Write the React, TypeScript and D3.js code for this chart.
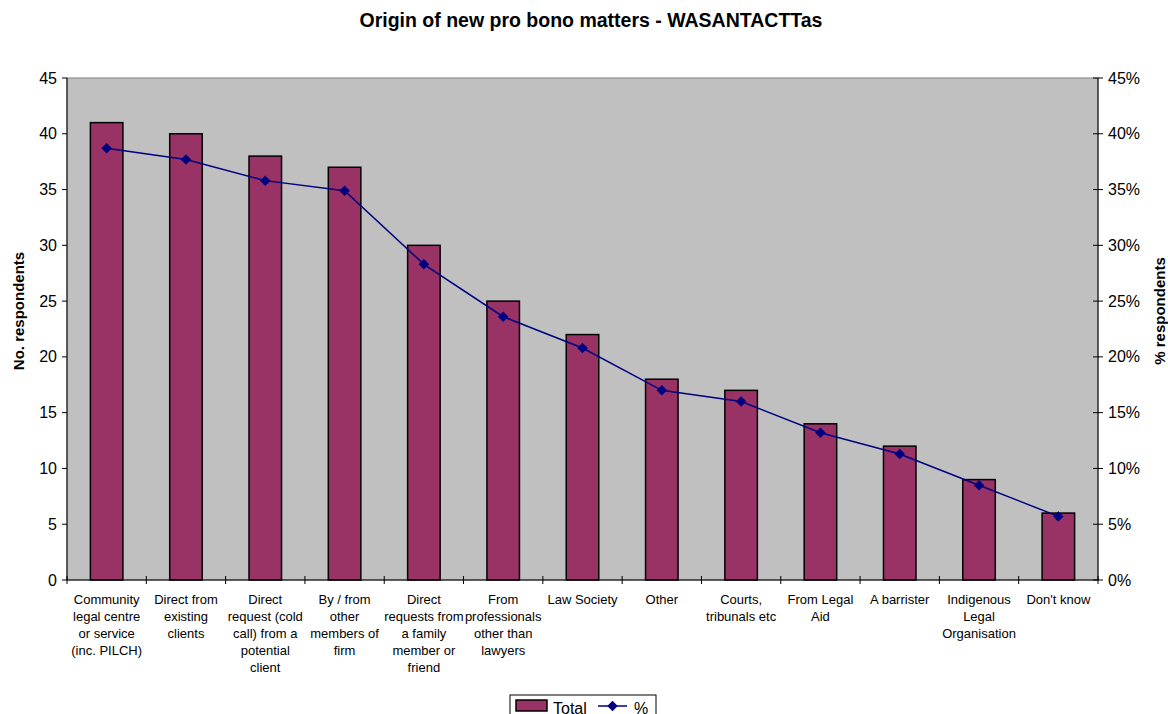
import { useEffect, useRef } from "react"
import * as d3 from "d3"

// Chart data
const categories = [
  "Community\nlegal centre\nor service\n(inc. PILCH)",
  "Direct from\nexisting\nclients",
  "Direct\nrequest  (cold\ncall) from a\npotential\nclient",
  "By / from\nother\nmembers of\nfirm",
  "Direct\nrequests from\na family\nmember or\nfriend",
  "From\nprofessionals\nother than\nlawyers",
  "Law Society",
  "Other",
  "Courts,\ntribunals etc",
  "From Legal\nAid",
  "A barrister",
  "Indigenous\nLegal\nOrganisation",
  "Don't know",
]
const totals = [41, 40, 38, 37, 30, 25, 22, 18, 17, 14, 12, 9, 6]
const percents = [38.7, 37.7, 35.8, 34.9, 28.3, 23.6, 20.8, 17.0, 16.0, 13.2, 11.3, 8.5, 5.7]
const leftTicks = [0, 5, 10, 15, 20, 25, 30, 35, 40, 45]
const rightTicks = [0, 5, 10, 15, 20, 25, 30, 35, 40, 45]

const W = 1168
const H = 714
const font = "Arial, 'Liberation Sans', sans-serif"

const App = () => {
  const svgRef = useRef<SVGSVGElement>(null)

  useEffect(() => {
    if (!svgRef.current) return
    const svg = d3.select(svgRef.current)
    svg.selectAll("*").remove()
    svg.style("font-family", font)

    const left = 67
    const right = 1098
    const top = 78
    const bottom = 580

    const x = d3.scaleBand<number>().domain(d3.range(categories.length)).range([left, right]).padding(0)
    const y = d3.scaleLinear().domain([0, 45]).range([bottom, top])
    const yp = d3.scaleLinear().domain([0, 45]).range([bottom, top])
    const barW = x.bandwidth() * 0.41

    // diamond marker: rotated square
    const diamond = d3.symbol(d3.symbolSquare, 55)()

    // Title
    svg
      .append("text")
      .attr("x", 591)
      .attr("y", 27)
      .attr("text-anchor", "middle")
      .attr("font-size", 19.5)
      .attr("font-weight", "bold")
      .text("Origin of new pro bono matters - WASANTACTTas")

    // Plot area
    svg
      .append("rect")
      .attr("x", left)
      .attr("y", top)
      .attr("width", right - left)
      .attr("height", bottom - top)
      .attr("fill", "#c0c0c0")
      .attr("stroke", "#808080")
      .attr("stroke-width", 1)

    // Bars
    svg
      .selectAll("rect.bar")
      .data(totals)
      .join("rect")
      .attr("class", "bar")
      .attr("x", (_, i) => x(i)! + (x.bandwidth() - barW) / 2)
      .attr("y", (d) => y(d))
      .attr("width", barW)
      .attr("height", (d) => bottom - y(d))
      .attr("fill", "#993366")
      .attr("stroke", "#000")
      .attr("stroke-width", 1.5)

    // Line series
    const line = d3
      .line<number>()
      .x((_, i) => x(i)! + x.bandwidth() / 2)
      .y((d) => yp(d))
    svg
      .append("path")
      .datum(percents)
      .attr("d", line)
      .attr("fill", "none")
      .attr("stroke", "#000080")
      .attr("stroke-width", 1.5)
    svg
      .selectAll("path.marker")
      .data(percents)
      .join("path")
      .attr("class", "marker")
      .attr("d", diamond)
      .attr("transform", (d, i) => `translate(${x(i)! + x.bandwidth() / 2},${yp(d)}) rotate(45)`)
      .attr("fill", "#000080")

    // Axes lines
    const axisG = svg.append("g").attr("stroke", "#000").attr("stroke-width", 1)
    axisG.append("line").attr("x1", left).attr("x2", left).attr("y1", top).attr("y2", bottom)
    axisG.append("line").attr("x1", right).attr("x2", right).attr("y1", top).attr("y2", bottom)
    axisG.append("line").attr("x1", left).attr("x2", right).attr("y1", bottom).attr("y2", bottom)

    // Left ticks
    leftTicks.forEach((t) => {
      axisG.append("line").attr("x1", left - 5).attr("x2", left).attr("y1", y(t)).attr("y2", y(t))
      svg
        .append("text")
        .attr("x", left - 10)
        .attr("y", y(t))
        .attr("dy", "0.35em")
        .attr("text-anchor", "end")
        .attr("font-size", 16)
        .text(t)
    })

    // Right ticks
    rightTicks.forEach((t) => {
      axisG.append("line").attr("x1", right - 5).attr("x2", right + 5).attr("y1", yp(t)).attr("y2", yp(t))
      svg
        .append("text")
        .attr("x", right + 10)
        .attr("y", yp(t))
        .attr("dy", "0.35em")
        .attr("text-anchor", "start")
        .attr("font-size", 16)
        .text(`${t}%`)
    })

    // Category ticks
    d3.range(categories.length + 1).forEach((i) => {
      const xx = i < categories.length ? x(i)! : right
      axisG.append("line").attr("x1", xx).attr("x2", xx).attr("y1", bottom - 4).attr("y2", bottom + 4)
    })

    // Category labels
    categories.forEach((c, i) => {
      const t = svg
        .append("text")
        .attr("text-anchor", "middle")
        .attr("font-size", 13)
      c.split("\n").forEach((ln, j) => {
        t.append("tspan")
          .attr("x", x(i)! + x.bandwidth() / 2)
          .attr("y", 604 + j * 17)
          .text(ln)
      })
    })

    // Axis titles
    svg
      .append("text")
      .attr("transform", `translate(24,311) rotate(-90)`)
      .attr("text-anchor", "middle")
      .attr("font-size", 15)
      .attr("font-weight", "bold")
      .text("No. respondents")
    svg
      .append("text")
      .attr("transform", `translate(1165,311) rotate(-90)`)
      .attr("text-anchor", "middle")
      .attr("font-size", 15)
      .attr("font-weight", "bold")
      .text("% respondents")

    // Legend
    const lg = svg.append("g").attr("transform", "translate(510,695)")
    lg.append("rect").attr("width", 146).attr("height", 24).attr("fill", "#fff").attr("stroke", "#000")
    lg.append("rect")
      .attr("x", 6)
      .attr("y", 5)
      .attr("width", 31)
      .attr("height", 11)
      .attr("fill", "#993366")
      .attr("stroke", "#000")
      .attr("stroke-width", 1.5)
    lg.append("text").attr("x", 43).attr("y", 19).attr("font-size", 16).text("Total")
    lg.append("line").attr("x1", 88).attr("x2", 117).attr("y1", 11).attr("y2", 11).attr("stroke", "#000080").attr("stroke-width", 1.5)
    lg.append("path")
      .attr("d", diamond)
      .attr("transform", "translate(102.5,11) rotate(45)")
      .attr("fill", "#000080")
    lg.append("text").attr("x", 124).attr("y", 19).attr("font-size", 16).text("%")
  }, [])

  return (
    <svg
      ref={svgRef}
      width={W}
      height={H}
      style={{ position: "absolute", left: 0, top: 0, background: "#fff" }}
    />
  )
}

export default App
